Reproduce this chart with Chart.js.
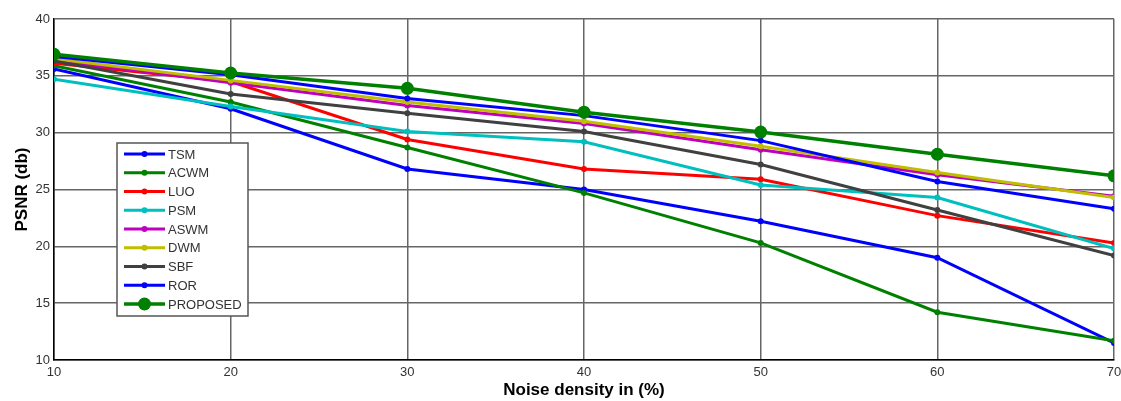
<!DOCTYPE html>
<html>
<head>
<meta charset="utf-8">
<script src="https://cdn.jsdelivr.net/npm/chart.js@4.4.1/dist/chart.umd.min.js"></script>
<style>
  html, body { margin: 0; padding: 0; background: #fff; }
  #wrap { width: 1121px; height: 401px; position: relative; }
</style>
</head>
<body>
<div id="wrap"><canvas id="psnrChart"></canvas></div>
<script>
// Noise density (%) on the x axis
const noiseLevels = [10, 20, 30, 40, 50, 60, 70];

// PSNR (db) per method
const tsm      = [35.6, 32.1, 26.8, 25.0, 22.2, 19.0, 11.5];
const acwm     = [35.9, 32.7, 28.7, 24.7, 20.3, 14.2, 11.7];
const luo      = [36.1, 34.5, 29.4, 26.8, 25.9, 22.7, 20.3];
const psm      = [34.7, 32.3, 30.1, 29.2, 25.4, 24.3, 19.8];
const aswm     = [36.4, 34.4, 32.4, 30.8, 28.5, 26.3, 24.4];
const dwm      = [36.5, 34.6, 32.7, 31.0, 28.8, 26.5, 24.3];
const sbf      = [36.3, 33.4, 31.7, 30.1, 27.2, 23.2, 19.2];
const ror      = [36.7, 35.1, 33.0, 31.5, 29.3, 25.7, 23.3];
const proposed = [36.9, 35.25, 33.9, 31.8, 30.05, 28.1, 26.2];

const seriesNames = ['TSM', 'ACWM', 'LUO', 'PSM', 'ASWM', 'DWM', 'SBF', 'ROR', 'PROPOSED'];
const seriesData = [tsm, acwm, luo, psm, aswm, dwm, sbf, ror, proposed];
const seriesColors = ['#0000ff', '#008000', '#ff0000', '#00bfbf', '#bf00bf', '#bfbf00', '#404040', '#0000ff', '#008000'];

const yTicks = [10, 15, 20, 25, 30, 35, 40];

const FONT = 'Arial, "Liberation Sans", sans-serif';

const datasets = seriesNames.map((name, i) => {
    const big = name === 'PROPOSED';
    return {
        label: name,
        data: seriesData[i].map((v, j) => ({ x: noiseLevels[j], y: v })),
        borderColor: seriesColors[i],
        backgroundColor: seriesColors[i],
        borderWidth: big ? 3.5 : 3,
        pointRadius: big ? 6.5 : 3,
        pointStyle: 'circle',
        pointBorderWidth: 0,
        tension: 0,
        order: seriesNames.length - i
    };
});

// Legend box drawn inside the plot, like the MATLAB one
const boxLegend = {
    id: 'boxLegend',
    afterDraw(chart) {
        const ctx = chart.ctx;
        const left = 117, top = 143, w = 131, h = 173;
        ctx.save();
        ctx.fillStyle = '#fff';
        ctx.fillRect(left, top, w, h);
        ctx.strokeStyle = '#555';
        ctx.lineWidth = 1.5;
        ctx.strokeRect(left, top, w, h);
        ctx.font = '13px ' + FONT;
        ctx.textBaseline = 'middle';
        chart.data.datasets.forEach((ds, i) => {
            const y = 154 + i * 18.75;
            ctx.strokeStyle = ds.borderColor;
            ctx.lineWidth = ds.borderWidth;
            ctx.beginPath();
            ctx.moveTo(124, y);
            ctx.lineTo(165, y);
            ctx.stroke();
            ctx.fillStyle = ds.borderColor;
            ctx.beginPath();
            ctx.arc(144.5, y, ds.pointRadius, 0, Math.PI * 2);
            ctx.fill();
            ctx.fillStyle = '#333';
            ctx.fillText(ds.label, 168, y + 1);
        });
        ctx.restore();
    }
};

new Chart(document.getElementById('psnrChart'), {
    type: 'line',
    data: { datasets: datasets },
    plugins: [boxLegend],
    options: {
        responsive: true,
        maintainAspectRatio: false,
        animation: false,
        layout: { padding: { top: 19, right: 0, left: 0, bottom: 0 } },
        plugins: {
            legend: { display: false },
            tooltip: { enabled: false }
        },
        scales: {
            x: {
                type: 'linear',
                min: 10,
                max: 70,
                afterBuildTicks: axis => { axis.ticks = noiseLevels.map(v => ({ value: v })); },
                afterFit: axis => { axis.height = 41; axis.paddingRight = 7; axis.paddingLeft = 0; },
                grid: { color: '#666', lineWidth: 1.5, drawTicks: false },
                border: { color: '#000', width: 1.5 },
                ticks: { color: '#333', font: { family: FONT, size: 13 }, padding: 5, maxRotation: 0 },
                title: {
                    display: true,
                    text: 'Noise density in (%)',
                    color: '#000',
                    font: { family: FONT, size: 17, weight: 'bold' },
                    padding: { top: 0, bottom: 0 }
                }
            },
            y: {
                min: 10,
                max: 40,
                afterBuildTicks: axis => { axis.ticks = yTicks.map(v => ({ value: v })); },
                afterFit: axis => { axis.width = 54; axis.paddingTop = 0; axis.paddingBottom = 0; },
                grid: { color: '#666', lineWidth: 1.5, drawTicks: false },
                border: { color: '#000', width: 1.5 },
                ticks: { color: '#333', font: { family: FONT, size: 13 }, padding: 4 },
                title: {
                    display: true,
                    text: 'PSNR (db)',
                    color: '#000',
                    font: { family: FONT, size: 17, weight: 'bold' },
                    padding: { top: 12, bottom: 0 }
                }
            }
        }
    }
});
</script>
</body>
</html>
